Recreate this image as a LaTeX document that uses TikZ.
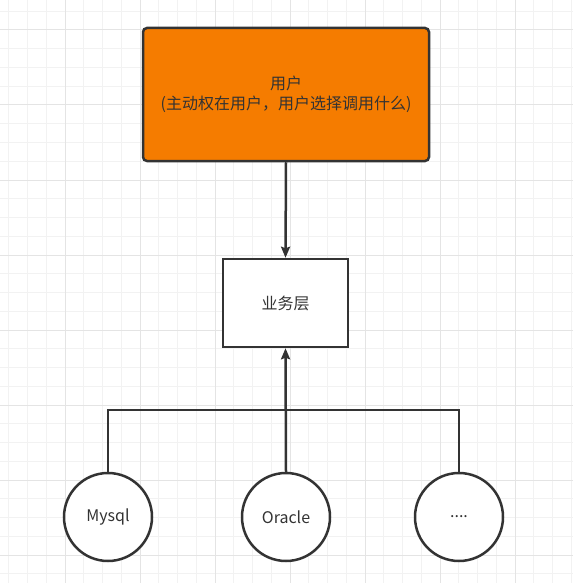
\documentclass[tikz,border=0pt]{standalone}
\usepackage{fontspec}
\setmainfont{Noto Sans CJK SC}
\usetikzlibrary{arrows.meta}
\definecolor{orangefill}{HTML}{F57C00}
\definecolor{strokec}{HTML}{333333}
\definecolor{textc}{HTML}{333333}
\definecolor{gridminor}{HTML}{F2F2F2}
\definecolor{gridmajor}{HTML}{E4E4E4}
\begin{document}
\begin{tikzpicture}[x=1pt,y=-1pt,
  base/.style={draw=strokec, line width=2.5pt, text=textc, font=\fontsize{16}{20}\selectfont, align=center, inner sep=0pt},
  userbox/.style={base, fill=orangefill, rounded corners=4pt, minimum width=286pt, minimum height=133pt},
  bizbox/.style={base, fill=white, minimum width=125pt, minimum height=88pt},
  dbnode/.style={base, fill=white, circle, minimum size=88pt},
  conn/.style={draw=strokec, line width=2.5pt},
  arr/.style={conn, -{Stealth[length=11pt,width=9pt,inset=1.5pt]}}
]
\useasboundingbox (0,0) rectangle (573,583);
\fill[white] (0,0) rectangle (573,583);
% grid
\foreach \i in {0,...,30} {
  \pgfmathsetmacro{\xx}{8.75+18.75*\i}
  \draw[gridminor, line width=1pt] (\xx,0) -- (\xx,583);
}
\foreach \i in {0,...,30} {
  \pgfmathsetmacro{\yy}{11.25+18.75*\i}
  \draw[gridminor, line width=1pt] (0,\yy) -- (573,\yy);
}
\foreach \i in {0,...,7} {
  \pgfmathsetmacro{\xx}{65+75*\i}
  \draw[gridmajor, line width=1pt] (\xx,0) -- (\xx,583);
}
\foreach \i in {0,...,7} {
  \pgfmathsetmacro{\yy}{30+75*\i}
  \draw[gridmajor, line width=1pt] (0,\yy) -- (573,\yy);
}
% nodes
\node[userbox] (user) at (286,94.5) {用户\\(主动权在用户，用户选择调用什么)};
\node[bizbox] (biz) at (285.5,303) {业务层};
\node[dbnode] (mysql) at (108,517) {Mysql};
\node[dbnode] (oracle) at (286,517) {Oracle};
\node[dbnode] (dots) at (459,517) {....};
\coordinate (j) at (286,410);
% connectors
\draw[arr] (user.south) -- (biz.north);
\draw[arr] (oracle.north) -- (biz.south);
\draw[conn] (mysql.north) -- (mysql.north |- j) -- (dots.north |- j) -- (dots.north);
\end{tikzpicture}
\end{document}
